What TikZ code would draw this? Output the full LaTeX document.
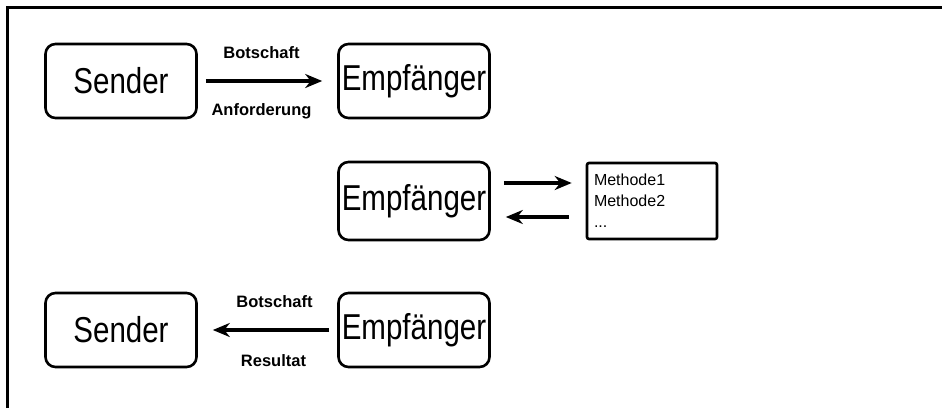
\documentclass[tikz,border=0pt]{standalone}
\usepackage{fontspec}
\setmainfont{Liberation Sans}
\newfontfamily\narrowfont[FakeStretch=0.82]{Liberation Sans}
\usetikzlibrary{arrows.meta}
\tikzset{>={Stealth[length=17pt,width=14pt]}}
\tikzset{
	% sender and receiver boxes
	partner/.style={draw,rounded corners=10pt,line width=2.6pt,
		minimum width=151pt,minimum height=74pt,inner sep=0pt,
		font=\narrowfont\fontsize{36}{36}\selectfont},
	% message arrows and their labels
	msg/.style={line width=4pt,->,shorten <=8pt,shorten >=15pt},
	msglabel/.style={inner sep=0pt,font=\bfseries\fontsize{16.5}{16.5}\selectfont},
	% list of methods
	methods/.style={draw,rounded corners=2pt,line width=2.6pt,
		minimum width=130pt,minimum height=76pt,text width=116pt,
		align=left,inner sep=7pt,font=\fontsize{16}{21}\selectfont},
}

\begin{document}
\begin{tikzpicture}[x=1pt,y=-1pt]
\useasboundingbox (0,0) rectangle (942,408);
% frame
\draw[line width=3pt] (7,408) -- (7,7) -- (942,7);
% request
\node[partner] (send1) at (121,81) {Sender};
\node[partner] (recv1) at (414,81) {Empfänger};
\draw[msg] (send1) -- node[msglabel,above=20pt,xshift=-6pt] {Botschaft}
	node[msglabel,below=21pt,xshift=-6pt] {Anforderung} (recv1);
% receiver calls its methods
\node[partner,minimum height=78pt] (recv2) at (414,201) {Empfänger};
\node[methods] (meth) at (652,201) {Methode1\\Methode2\\...};
\draw[line width=4pt,->,shorten <=13pt,shorten >=14pt]
	([yshift=18pt]recv2.east) -- ([yshift=18pt]meth.west);
\draw[line width=4pt,->,shorten <=17pt,shorten >=15pt]
	([yshift=-16pt]meth.west) -- ([yshift=-16pt]recv2.east);
% result
\node[partner] (send2) at (121,330) {Sender};
\node[partner] (recv3) at (414,330) {Empfänger};
\draw[msg] (recv3) -- node[msglabel,above=20pt,xshift=7pt] {Botschaft}
	node[msglabel,below=23pt,xshift=6pt] {Resultat} (send2);
\end{tikzpicture}
\end{document}
